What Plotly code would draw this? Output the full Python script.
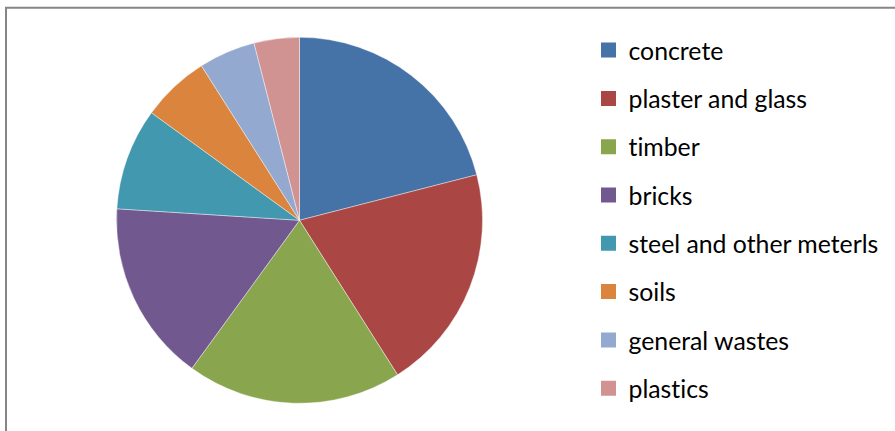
import plotly.graph_objects as go

# Share of construction waste by material
materials = ["concrete", "plaster and glass", "timber", "bricks",
             "steel and other meterls", "soils", "general wastes", "plastics"]
shares = [21, 20, 19, 16, 9, 6, 5, 4]
colors = ["#4572A7", "#AA4643", "#89A54E", "#71588F",
          "#4198AF", "#DB843D", "#93A9CF", "#D19392"]

W, H = 895, 431
cx, cy, r = 299.5, 220.3, 183.0

fig = go.Figure()

fig.add_trace(go.Pie(
    labels=materials,
    values=shares,
    sort=False,
    direction="clockwise",
    rotation=0,
    textinfo="none",
    hoverinfo="label+percent",
    showlegend=False,
    marker=dict(colors=colors, line=dict(color="rgba(255,255,255,0.7)", width=0.6)),
    domain=dict(x=[(cx - r) / W, (cx + r) / W],
                y=[(H - cy - r) / H, (H - cy + r) / H]),
))

# Legend entries: one square swatch per material, each in its own group.
# A zero-width non-joiner keeps Lato from fusing "ti" into a ligature.
for name, col in zip(materials, colors):
    fig.add_trace(go.Scatter(
        x=[None], y=[None], mode="markers",
        name=name.replace("ti", "t\u200ci"),
        legendgroup=name,
        marker=dict(symbol="square", size=15, color=col),
        hoverinfo="skip",
    ))

font_size = 24.8
fig.update_layout(
    width=W, height=H,
    margin=dict(l=0, r=0, t=0, b=0),
    paper_bgcolor="white",
    plot_bgcolor="white",
    xaxis=dict(visible=False),
    yaxis=dict(visible=False),
    font=dict(family="Lato", color="#000000"),
    legend=dict(
        x=(628.5 - 40) / W, xanchor="left",
        y=1 - 27.5 / H, yanchor="top",
        font=dict(size=font_size, family="Lato", color="#000000"),
        tracegroupgap=48.3 - (1.3 * font_size + 3),
        bgcolor="rgba(0,0,0,0)",
        borderwidth=0,
    ),
    shapes=[dict(
        type="rect", xref="paper", yref="paper",
        x0=6 / W, x1=1.02, y0=-0.02, y1=1 - 7.8 / H,
        line=dict(color="#868686", width=2),
        fillcolor="rgba(0,0,0,0)", layer="below",
    )],
)

fig.write_html("out.html")
